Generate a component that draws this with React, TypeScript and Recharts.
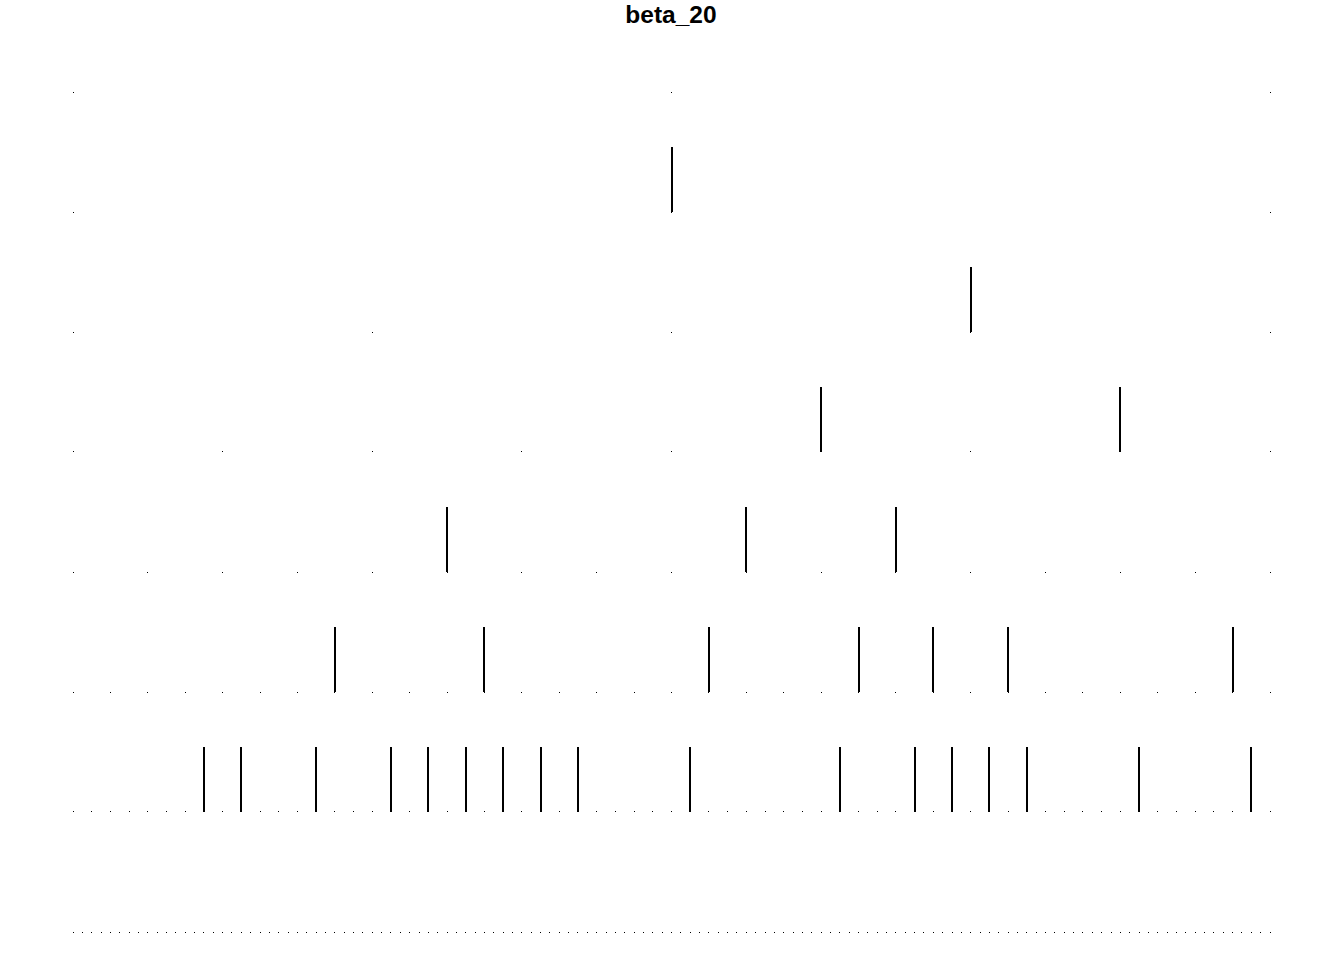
import { ScatterChart, Scatter, XAxis, YAxis, ReferenceLine } from 'recharts'

// number of intervals on each row, top row first
const rowIntervals = [2, 2, 4, 8, 16, 32, 64, 128]

// positions (in units of the row's spacing) where a spike is drawn
const rowSpikes = [
  [],
  [1],
  [3],
  [5, 7],
  [5, 9, 11],
  [7, 11, 17, 21, 23, 25, 31],
  [7, 9, 13, 17, 19, 21, 23, 25, 27, 33, 41, 45, 47, 49, 51, 57, 63],
  [],
]

// every spike has the same size
const spikeValue = 1
const spikeScale = 0.54

const title = 'beta_20'

const dots: { x: number; y: number }[] = []
rowIntervals.forEach((n, row) => {
  for (let i = 0; i <= n; i++) dots.push({ x: i / n, y: row })
})

const spikes: { x: number; y0: number; y1: number }[] = []
rowSpikes.forEach((list, row) => {
  list.forEach((idx) => {
    spikes.push({ x: idx / rowIntervals[row], y0: row, y1: row - spikeValue * spikeScale })
  })
})

const Dot = (props: any) => {
  const { cx, cy } = props
  if (cx == null || cy == null) return null
  return <rect x={Math.floor(cx)} y={Math.floor(cy)} width={1} height={1} fill="#000" shapeRendering="crispEdges" />
}

export default function App() {
  return (
    <div style={{ position: 'absolute', left: 0, top: 0, width: 1344, height: 960, background: '#fff' }}>
      <div
        style={{
          position: 'absolute',
          left: 0,
          top: 1,
          width: 1342,
          textAlign: 'center',
          fontFamily: '"Liberation Sans", Arial, sans-serif',
          fontWeight: 'bold',
          fontSize: 24.5,
          color: '#000',
        }}
      >
        {title}
      </div>
      <ScatterChart width={1344} height={960} margin={{ top: 92, right: 74, bottom: 28, left: 73 }}>
        <XAxis type="number" dataKey="x" domain={[0, 1]} hide />
        <YAxis type="number" dataKey="y" domain={[0, 7]} reversed hide />
        {spikes.map((s, i) => (
          <ReferenceLine
            key={i}
            segment={[
              { x: s.x, y: s.y0 },
              { x: s.x, y: s.y1 },
            ]}
            stroke="#000"
            strokeWidth={2}
            shapeRendering="crispEdges"
            ifOverflow="visible"
          />
        ))}
        <Scatter data={dots} shape={Dot} isAnimationActive={false} />
      </ScatterChart>
    </div>
  )
}
